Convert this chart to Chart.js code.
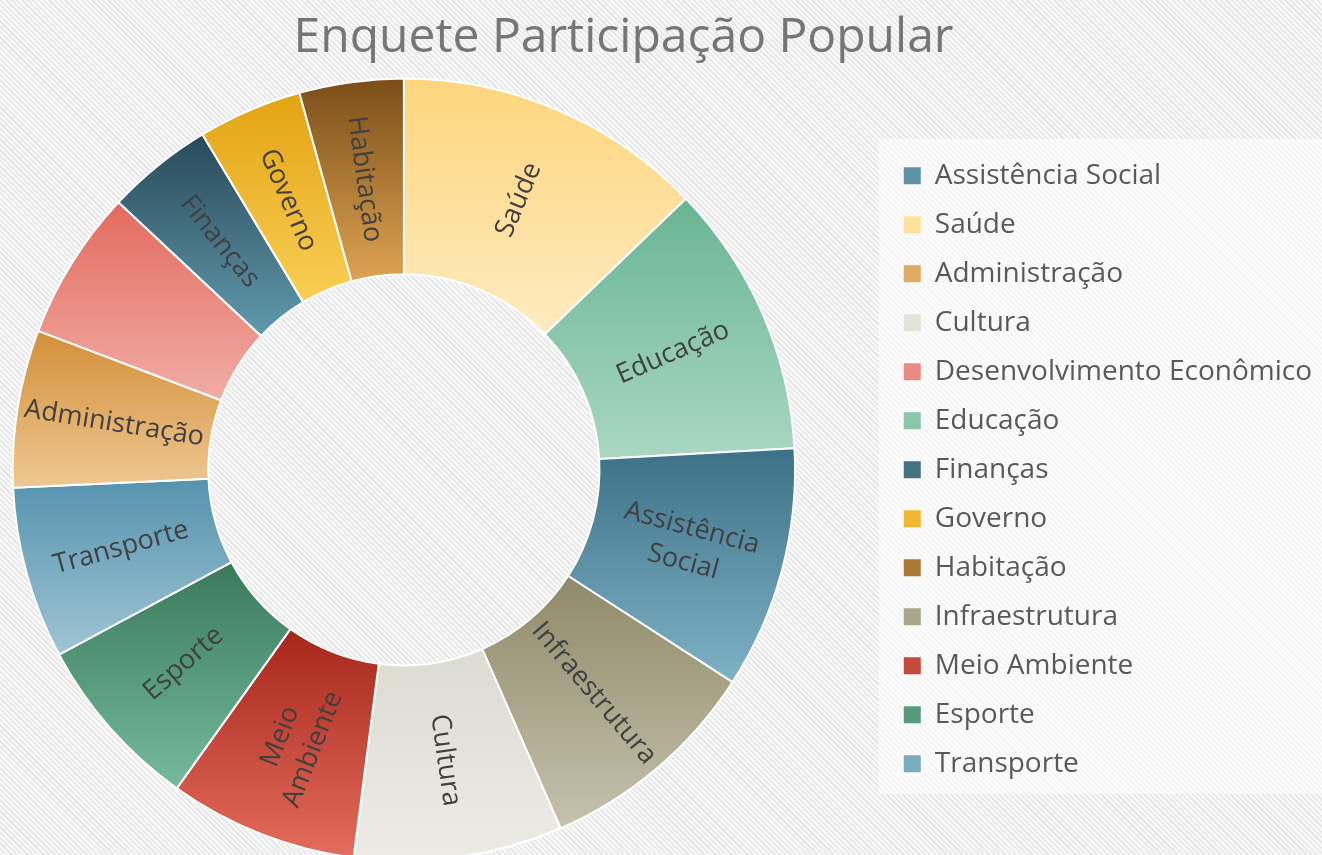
<!DOCTYPE html>
<html lang="pt-BR">
<head>
    <meta charset="UTF-8">
    <title>Enquete Participação Popular</title>
    <script src="https://cdn.jsdelivr.net/npm/chart.js"></script>
    <style>
        html, body { margin: 0; padding: 0; overflow: hidden; }
        body {
            width: 1322px; height: 855px;
            background: repeating-linear-gradient(45deg, #e7e7e7 0px, #e7e7e7 1.6px, #f8f8f8 1.6px, #f8f8f8 3.8px);
        }
        #wrap { position: absolute; left: -75px; top: 0; width: 1397px; height: 862px; }
    </style>
</head>
<body>
    <div id="wrap"><canvas id="myChart"></canvas></div>

    <script>
        // slices, clockwise from 12 o'clock
        const sliceNames = ['Saúde', 'Educação', 'Assistência Social', 'Infraestrutura', 'Cultura', 'Meio Ambiente',
            'Esporte', 'Transporte', 'Administração', 'Desenvolvimento Econômico', 'Finanças', 'Governo', 'Habitação'];
        const shares = [12.8, 11.3, 10.0, 9.3, 8.6, 7.8, 7.3, 7.1, 6.5, 6.2, 4.4, 4.3, 4.3];
        const sliceText = [['Saúde'], ['Educação'], ['Assistência', 'Social'], ['Infraestrutura'], ['Cultura'],
            ['Meio', 'Ambiente'], ['Esporte'], ['Transporte'], ['Administração'], [], ['Finanças'], ['Governo'], ['Habitação']];
        const legendOrder = ['Assistência Social', 'Saúde', 'Administração', 'Cultura', 'Desenvolvimento Econômico',
            'Educação', 'Finanças', 'Governo', 'Habitação', 'Infraestrutura', 'Meio Ambiente', 'Esporte', 'Transporte'];

        const topColors = ['#fdd57c', '#68b593', '#3d7187', '#8f8a68', '#dddcd2', '#a7261b',
            '#3a7a5b', '#5593ad', '#d38f38', '#e36a5e', '#284a58', '#e3a312', '#7a4d18'];
        const bottomColors = ['#feebc0', '#aad7c3', '#80b2c6', '#c6c2ae', '#ecebe5', '#e46d5d',
            '#74bb9c', '#a0c5d5', '#eec793', '#f1ada6', '#6199ad', '#f9ce55', '#dea352'];
        const legendColors = ['#fde19d', '#89c6ab', '#5f92a7', '#aaa68b', '#e4e3db', '#c5493c',
            '#579a7b', '#7aacc1', '#e0ab65', '#ea8b82', '#457283', '#eeb833', '#ac7835'];

        function sliceFill(ctx) {
            const chart = ctx.chart;
            const area = chart.chartArea;
            const i = ctx.dataIndex;
            if (!area || i === undefined) return '#cccccc';
            const cy = (area.top + area.bottom) / 2;
            const R = Math.min(area.width, area.height) / 2;
            const total = shares.reduce((a, b) => a + b, 0);
            const before = shares.slice(0, i).reduce((a, b) => a + b, 0);
            const start = -Math.PI / 2 + before / total * 2 * Math.PI;
            const end = start + shares[i] / total * 2 * Math.PI;
            let minY = Infinity, maxY = -Infinity;
            for (let k = 0; k <= 24; k++) {
                const a = start + (end - start) * k / 24;
                [R * 0.5, R].forEach(rr => {
                    const y = cy + rr * Math.sin(a);
                    minY = Math.min(minY, y);
                    maxY = Math.max(maxY, y);
                });
            }
            const g = chart.ctx.createLinearGradient(0, minY, 0, maxY);
            g.addColorStop(0, topColors[i]);
            g.addColorStop(1, bottomColors[i]);
            return g;
        }

        // light panel behind the legend
        const legendPanel = {
            id: 'legendPanel',
            beforeDraw(chart) {
                const lg = chart.legend;
                if (!lg || !lg.legendHitBoxes || !lg.legendHitBoxes.length) return;
                const hb = lg.legendHitBoxes;
                const first = hb[0].top + hb[0].height / 2;
                const last = hb[hb.length - 1].top + hb[hb.length - 1].height / 2;
                const c = chart.ctx;
                c.save();
                c.fillStyle = 'rgba(255,255,255,0.6)';
                c.fillRect(lg.left - 4, first - 37, lg.right - lg.left + 4, last - first + 67);
                c.restore();
            }
        };

        // rotated labels inside the ring
        const sliceLabels = {
            id: 'sliceLabels',
            afterDatasetsDraw(chart) {
                const c = chart.ctx;
                chart.getDatasetMeta(0).data.forEach((arc, i) => {
                    const lines = sliceText[i];
                    if (!lines.length) return;
                    const p = arc.getProps(['x', 'y', 'startAngle', 'endAngle', 'innerRadius', 'outerRadius'], true);
                    const a = (p.startAngle + p.endAngle) / 2;
                    const r = (p.innerRadius + p.outerRadius) / 2;
                    c.save();
                    c.translate(p.x + r * Math.cos(a), p.y + r * Math.sin(a));
                    c.rotate(Math.cos(a) < 0 ? a - Math.PI : a);
                    c.font = '27px "Open Sans"';
                    c.fillStyle = '#404040';
                    c.textAlign = 'center';
                    c.textBaseline = 'middle';
                    lines.forEach((t, k) => c.fillText(t, 0, (k - (lines.length - 1) / 2) * 35));
                    c.restore();
                });
            }
        };

        const ctx = document.getElementById('myChart').getContext('2d');
        new Chart(ctx, {
            type: 'doughnut',
            data: {
                labels: sliceNames,
                datasets: [{
                    data: shares,
                    backgroundColor: sliceFill,
                    borderColor: '#ffffff',
                    borderWidth: 2
                }]
            },
            options: {
                responsive: true,
                maintainAspectRatio: false,
                animation: false,
                events: [],
                cutout: '50%',
                plugins: {
                    title: {
                        display: true,
                        text: 'Enquete Participação Popular',
                        color: '#767676',
                        font: { family: 'Open Sans', size: 48, weight: 'normal' },
                        padding: { top: 10, bottom: 10 }
                    },
                    legend: {
                        position: 'right',
                        align: 'center',
                        fullSize: false,
                        labels: {
                            font: { family: 'Open Sans', size: 28 },
                            color: '#595959',
                            boxWidth: 17,
                            boxHeight: 17,
                            padding: 21,
                            generateLabels: () => sliceNames.map((n, i) => ({
                                text: n, fillStyle: legendColors[i], strokeStyle: 'rgba(0,0,0,0)',
                                lineWidth: 0, hidden: false, index: i, fontColor: '#595959'
                            })),
                            sort: (a, b) => legendOrder.indexOf(a.text) - legendOrder.indexOf(b.text)
                        }
                    },
                    tooltip: { enabled: false }
                }
            },
            plugins: [legendPanel, sliceLabels]
        });
    </script>
</body>
</html>
